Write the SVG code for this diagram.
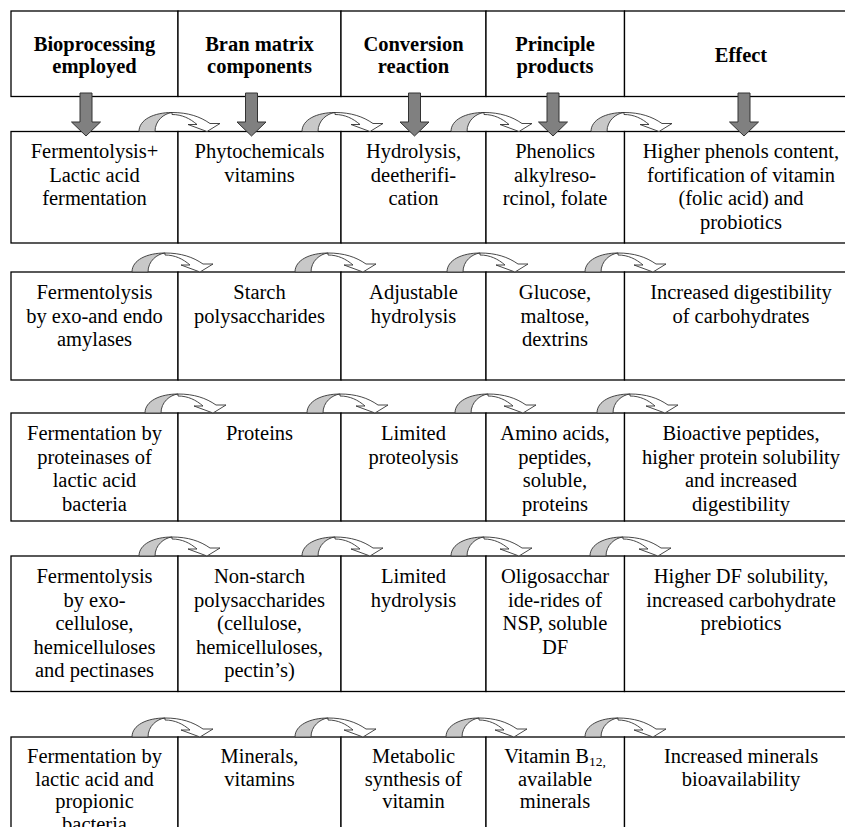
<svg xmlns="http://www.w3.org/2000/svg" width="845" height="827" viewBox="0 0 845 827">
<defs>
<style>
.cell{fill:#fff;stroke:#000;stroke-width:1.3}
.t{font-family:"Liberation Serif","Times New Roman",serif;font-size:20.5px;fill:#000;text-anchor:middle}
.h{font-weight:bold}
.down{fill:#808080;stroke:#333;stroke-width:1}
.cg{fill:#c8c8c8;stroke:#333;stroke-width:0.9}
.cw{fill:#fff;stroke:#333;stroke-width:0.9}
</style>
<g id="curve">
<path class="cg" d="M0,0 C0,-12 15,-19 33,-19 C25,-18 16,-11 16,0 Z"/>
<path class="cw" d="M33,-19 C49,-19 61,-15 71,-8 L81,-8 L68,0 L49,-7 L58,-7 C51,-13 43,-17 33,-17 Z"/>
</g>
<path id="dn" class="down" d="M-6,0 L6,0 L6,29 L14.5,29 L0,43 L-14.5,29 L-6,29 Z"/>
</defs>
<rect width="845" height="827" fill="#fff"/>

<g id="header">
<g id="h0"><rect class="cell" x="11" y="11" width="167" height="85.5"/><text class="t h"><tspan x="94.5" y="51">Bioprocessing</tspan><tspan x="94.5" y="73">employed</tspan></text></g>
<g id="h1"><rect class="cell" x="178" y="11" width="163" height="85.5"/><text class="t h"><tspan x="259.5" y="51">Bran matrix</tspan><tspan x="259.5" y="73">components</tspan></text></g>
<g id="h2"><rect class="cell" x="341" y="11" width="145" height="85.5"/><text class="t h"><tspan x="413.5" y="51">Conversion</tspan><tspan x="413.5" y="73">reaction</tspan></text></g>
<g id="h3"><rect class="cell" x="486" y="11" width="138.5" height="85.5"/><text class="t h"><tspan x="555" y="51">Principle</tspan><tspan x="555" y="73">products</tspan></text></g>
<g id="h4"><rect class="cell" x="624.5" y="11" width="240" height="85.5"/><text class="t h"><tspan x="741" y="62">Effect</tspan></text></g>
</g>

<g id="row1">
<g id="r1c0"><rect class="cell" x="11" y="131.5" width="167" height="111.5"/><text class="t"><tspan x="94.5" y="158">Fermentolysis+</tspan><tspan x="94.5" y="181.5">Lactic acid</tspan><tspan x="94.5" y="205">fermentation</tspan></text></g>
<g id="r1c1"><rect class="cell" x="178" y="131.5" width="163" height="111.5"/><text class="t"><tspan x="259.5" y="158">Phytochemicals</tspan><tspan x="259.5" y="181.5">vitamins</tspan></text></g>
<g id="r1c2"><rect class="cell" x="341" y="131.5" width="145" height="111.5"/><text class="t"><tspan x="413.5" y="158">Hydrolysis,</tspan><tspan x="413.5" y="181.5">deetherifi-</tspan><tspan x="413.5" y="205">cation</tspan></text></g>
<g id="r1c3"><rect class="cell" x="486" y="131.5" width="138.5" height="111.5"/><text class="t"><tspan x="555" y="158">Phenolics</tspan><tspan x="555" y="181.5">alkylreso-</tspan><tspan x="555" y="205">rcinol, folate</tspan></text></g>
<g id="r1c4"><rect class="cell" x="624.5" y="131.5" width="240" height="111.5"/><text class="t"><tspan x="741" y="158">Higher phenols content,</tspan><tspan x="741" y="181.5">fortification of vitamin</tspan><tspan x="741" y="205">(folic acid) and</tspan><tspan x="741" y="228.5">probiotics</tspan></text></g>
</g>

<g id="row2">
<g id="r2c0"><rect class="cell" x="11" y="272" width="167" height="108"/><text class="t"><tspan x="94.5" y="299">Fermentolysis</tspan><tspan x="94.5" y="322.5">by exo-and endo</tspan><tspan x="94.5" y="346">amylases</tspan></text></g>
<g id="r2c1"><rect class="cell" x="178" y="272" width="163" height="108"/><text class="t"><tspan x="259.5" y="299">Starch</tspan><tspan x="259.5" y="322.5">polysaccharides</tspan></text></g>
<g id="r2c2"><rect class="cell" x="341" y="272" width="145" height="108"/><text class="t"><tspan x="413.5" y="299">Adjustable</tspan><tspan x="413.5" y="322.5">hydrolysis</tspan></text></g>
<g id="r2c3"><rect class="cell" x="486" y="272" width="138.5" height="108"/><text class="t"><tspan x="555" y="299">Glucose,</tspan><tspan x="555" y="322.5">maltose,</tspan><tspan x="555" y="346">dextrins</tspan></text></g>
<g id="r2c4"><rect class="cell" x="624.5" y="272" width="240" height="108"/><text class="t"><tspan x="741" y="299">Increased digestibility</tspan><tspan x="741" y="322.5">of carbohydrates</tspan></text></g>
</g>

<g id="row3">
<g id="r3c0"><rect class="cell" x="11" y="413" width="167" height="108"/><text class="t"><tspan x="94.5" y="440">Fermentation by</tspan><tspan x="94.5" y="463.5">proteinases of</tspan><tspan x="94.5" y="487">lactic acid</tspan><tspan x="94.5" y="510.5">bacteria</tspan></text></g>
<g id="r3c1"><rect class="cell" x="178" y="413" width="163" height="108"/><text class="t"><tspan x="259.5" y="440">Proteins</tspan></text></g>
<g id="r3c2"><rect class="cell" x="341" y="413" width="145" height="108"/><text class="t"><tspan x="413.5" y="440">Limited</tspan><tspan x="413.5" y="463.5">proteolysis</tspan></text></g>
<g id="r3c3"><rect class="cell" x="486" y="413" width="138.5" height="108"/><text class="t"><tspan x="555" y="440">Amino acids,</tspan><tspan x="555" y="463.5">peptides,</tspan><tspan x="555" y="487">soluble,</tspan><tspan x="555" y="510.5">proteins</tspan></text></g>
<g id="r3c4"><rect class="cell" x="624.5" y="413" width="240" height="108"/><text class="t"><tspan x="741" y="440">Bioactive peptides,</tspan><tspan x="741" y="463.5">higher protein solubility</tspan><tspan x="741" y="487">and increased</tspan><tspan x="741" y="510.5">digestibility</tspan></text></g>
</g>

<g id="row4">
<g id="r4c0"><rect class="cell" x="11" y="556" width="167" height="135.5"/><text class="t"><tspan x="94.5" y="583">Fermentolysis</tspan><tspan x="94.5" y="606.5">by exo-</tspan><tspan x="94.5" y="630">cellulose,</tspan><tspan x="94.5" y="653.5">hemicelluloses</tspan><tspan x="94.5" y="677">and pectinases</tspan></text></g>
<g id="r4c1"><rect class="cell" x="178" y="556" width="163" height="135.5"/><text class="t"><tspan x="259.5" y="583">Non-starch</tspan><tspan x="259.5" y="606.5">polysaccharides</tspan><tspan x="259.5" y="630">(cellulose,</tspan><tspan x="259.5" y="653.5">hemicelluloses,</tspan><tspan x="259.5" y="677">pectin’s)</tspan></text></g>
<g id="r4c2"><rect class="cell" x="341" y="556" width="145" height="135.5"/><text class="t"><tspan x="413.5" y="583">Limited</tspan><tspan x="413.5" y="606.5">hydrolysis</tspan></text></g>
<g id="r4c3"><rect class="cell" x="486" y="556" width="138.5" height="135.5"/><text class="t"><tspan x="555" y="583">Oligosacchar</tspan><tspan x="555" y="606.5">ide-rides of</tspan><tspan x="555" y="630">NSP, soluble</tspan><tspan x="555" y="653.5">DF</tspan></text></g>
<g id="r4c4"><rect class="cell" x="624.5" y="556" width="240" height="135.5"/><text class="t"><tspan x="741" y="583">Higher DF solubility,</tspan><tspan x="741" y="606.5">increased carbohydrate</tspan><tspan x="741" y="630">prebiotics</tspan></text></g>
</g>

<g id="row5">
<g id="r5c0"><rect class="cell" x="11" y="737" width="167" height="140"/><text class="t"><tspan x="94.5" y="763">Fermentation by</tspan><tspan x="94.5" y="785.5">lactic acid and</tspan><tspan x="94.5" y="808">propionic</tspan><tspan x="94.5" y="830.5">bacteria</tspan></text></g>
<g id="r5c1"><rect class="cell" x="178" y="737" width="163" height="140"/><text class="t"><tspan x="259.5" y="763">Minerals,</tspan><tspan x="259.5" y="785.5">vitamins</tspan></text></g>
<g id="r5c2"><rect class="cell" x="341" y="737" width="145" height="140"/><text class="t"><tspan x="413.5" y="763">Metabolic</tspan><tspan x="413.5" y="785.5">synthesis of</tspan><tspan x="413.5" y="808">vitamin</tspan></text></g>
<g id="r5c3"><rect class="cell" x="486" y="737" width="138.5" height="140"/><text class="t"><tspan x="555" y="763">Vitamin B<tspan font-size="13.5" dy="3">12,</tspan></tspan><tspan x="555" y="785.5">available</tspan><tspan x="555" y="808">minerals</tspan></text></g>
<g id="r5c4"><rect class="cell" x="624.5" y="737" width="240" height="140"/><text class="t"><tspan x="741" y="763">Increased minerals</tspan><tspan x="741" y="785.5">bioavailability</tspan></text></g>
</g>

<g id="connectors">
<use href="#dn" x="86" y="93"/>
<use href="#dn" x="251.5" y="93"/>
<use href="#dn" x="414.5" y="93"/>
<use href="#dn" x="553" y="93"/>
<use href="#dn" x="744" y="93"/>
<use href="#curve" x="139" y="131.5"/>
<use href="#curve" x="302" y="131.5"/>
<use href="#curve" x="451" y="131.5"/>
<use href="#curve" x="591" y="131.5"/>
<use href="#curve" x="132" y="272"/>
<use href="#curve" x="295" y="272"/>
<use href="#curve" x="447" y="272"/>
<use href="#curve" x="585" y="272"/>
<use href="#curve" x="145" y="413"/>
<use href="#curve" x="307" y="413"/>
<use href="#curve" x="455" y="413"/>
<use href="#curve" x="597" y="413"/>
<use href="#curve" x="139" y="556"/>
<use href="#curve" x="302" y="556"/>
<use href="#curve" x="451" y="556"/>
<use href="#curve" x="590" y="556"/>
<use href="#curve" x="132" y="737"/>
<use href="#curve" x="295" y="737"/>
<use href="#curve" x="446" y="737"/>
<use href="#curve" x="585" y="737"/>
</g>
</svg>
